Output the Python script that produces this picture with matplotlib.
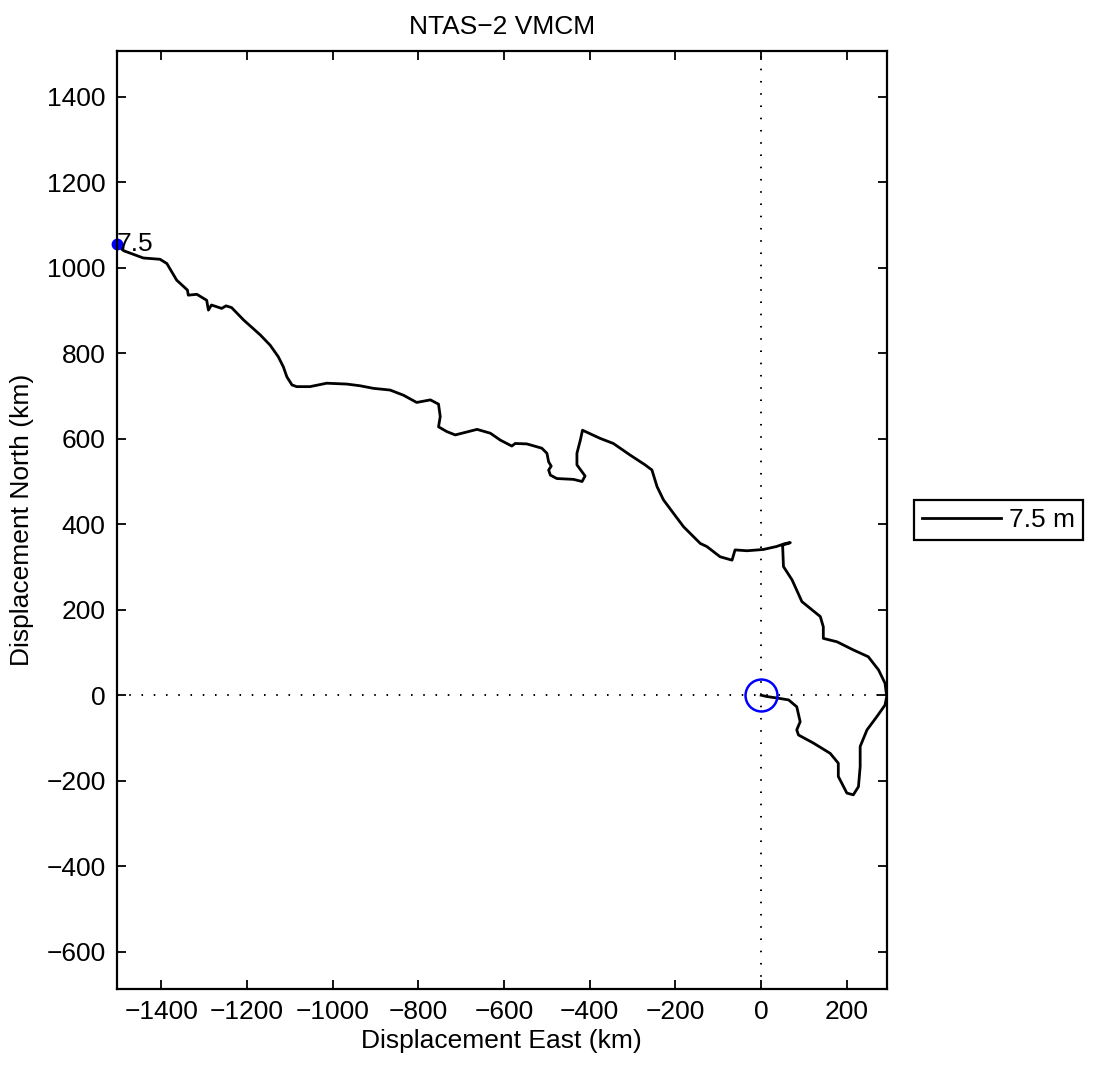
import numpy as np
import matplotlib
matplotlib.use("Agg")
import matplotlib.pyplot as plt

plt.rcParams['font.family'] = ['Liberation Sans', 'DejaVu Sans']

# progressive vector displacement (km), from deployment (origin) to end
east_km = [0, 13, 40, 64, 83, 91, 83, 87, 122, 161, 180, 180, 200, 215, 227, 231,
           231, 247, 270, 289, 293, 289, 274, 250, 215, 177, 145, 145, 138, 95, 72,
           52, 50, 68, 56, 36, 5, -33, -61, -68, -96, -127, -142, -181, -205, -228,
           -243, -255, -271, -306, -345, -376, -417, -422, -430, -430, -411, -418,
           -438, -477, -492, -496, -490, -496, -500, -512, -547, -574, -582, -609,
           -632, -663, -714, -734, -753, -749, -753, -772, -804, -835, -866, -905,
           -936, -967, -1014, -1053, -1084, -1095, -1107, -1115, -1127, -1146,
           -1169, -1208, -1236, -1249, -1259, -1283, -1290, -1292, -1294, -1317,
           -1337, -1339, -1364, -1387, -1403, -1442, -1488, -1504]
north_km = [0, -3, -7, -11, -27, -62, -81, -93, -112, -136, -159, -190, -229, -233,
            -214, -167, -120, -81, -50, -23, -3, 28, 59, 90, 106, 125, 133, 160, 184,
            219, 270, 301, 351, 357, 355, 348, 341, 338, 340, 316, 324, 348, 355, 394,
            426, 457, 488, 527, 539, 562, 589, 601, 620, 597, 566, 539, 513, 500, 505,
            507, 515, 527, 536, 546, 566, 578, 588, 589, 583, 597, 613, 622, 609, 617,
            628, 652, 681, 691, 685, 702, 714, 718, 724, 728, 730, 722, 722, 726, 745,
            768, 792, 819, 843, 878, 907, 911, 905, 913, 901, 912, 924, 938, 936, 948,
            971, 1010, 1020, 1023, 1040, 1055]

depth_label = '7.5'
title = 'NTAS\u22122 VMCM'
xticks = np.arange(-1400, 201, 200)
yticks = np.arange(-600, 1401, 200)

fs = 19
fig = plt.figure(figsize=(10.95, 10.65), dpi=100)
ax = fig.add_axes([0.1066, 0.0711, 0.7032, 0.8813])

ax.axvline(0, color='k', lw=1.4, linestyle=(0, (0.8, 5.5)))
ax.axhline(0, color='k', lw=1.4, linestyle=(0, (0.8, 5.5)))

line, = ax.plot(east_km, north_km, color='k', lw=2, label=depth_label + ' m')
ax.plot(0, 0, 'o', mfc='none', mec='b', ms=23, mew=1.8)
ax.plot(east_km[-1], north_km[-1], 'o', color='b', ms=7.5, clip_on=False)
ax.text(east_km[-1], north_km[-1], depth_label, fontsize=fs, va='center', ha='left')

ax.set_xlim(-1504, 293)
ax.set_ylim(-688, 1508)
ax.set_xticks(xticks)
ax.set_yticks(yticks)
ax.tick_params(direction='in', length=6.3, width=1.3, top=True, right=True,
               labelsize=fs, pad=8)
for s in ax.spines.values():
    s.set_linewidth(1.6)

ax.set_xlabel('Displacement East (km)', fontsize=fs, labelpad=3)
ax.set_ylabel('Displacement North (km)', fontsize=fs, labelpad=9)
ax.set_title(title, fontsize=fs, pad=12)

leg = fig.legend(handles=[line], loc='center left',
                 bbox_to_anchor=(914 / 1095, 1 - 520 / 1065),
                 fontsize=fs, frameon=True, fancybox=False, edgecolor='k',
                 framealpha=1, handlelength=3.0, borderaxespad=0, borderpad=0.3,
                 handletextpad=0.3)
leg.get_frame().set_linewidth(1.6)

plt.savefig('out.png', dpi=100)
